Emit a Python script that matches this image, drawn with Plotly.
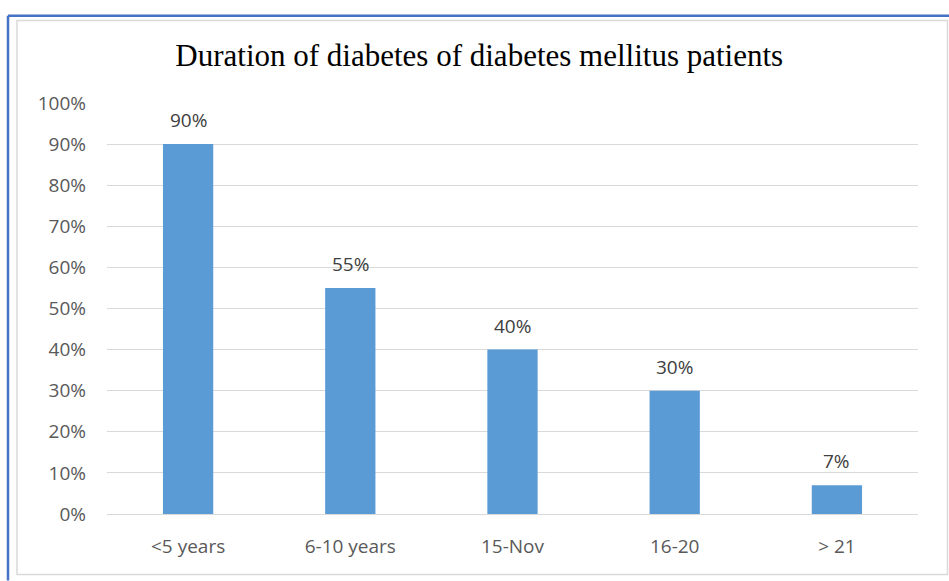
import plotly.graph_objects as go

categories = ["<5 years", "6-10 years", "15-Nov", "16-20", "> 21"]
values = [0.90, 0.55, 0.40, 0.30, 0.07]
labels = ["90%", "55%", "40%", "30%", "7%"]
tick_vals = [i / 10 for i in range(11)]
tick_text = [f"{i*10}%" for i in range(11)]

W, H = 949, 581
FONT = "Open Sans, Liberation Sans, sans-serif"
fig = go.Figure(go.Bar(
    x=categories, y=values,
    marker=dict(color="#5B9BD5", line=dict(width=0)),
    hoverinfo="skip",
))
for c, v, t in zip(categories, values, labels):
    fig.add_annotation(x=c, y=v, text=t, showarrow=False, yanchor="middle", yshift=24,
                       font=dict(family=FONT, size=19, color="#404040"))
fig.update_layout(
    width=W, height=H,
    margin=dict(l=107, r=31, t=103, b=67),
    paper_bgcolor="white", plot_bgcolor="white",
    bargap=0.69, showlegend=False,
    title=dict(text="Duration of diabetes of diabetes mellitus patients",
               x=0.505, xanchor="center", y=1 - 55 / H, yanchor="middle",
               font=dict(family="Liberation Serif, Times New Roman, serif", size=31, color="#000000")),
    xaxis=dict(showline=True, linecolor="#D9D9D9", linewidth=1, ticks="",
               ticklabelstandoff=15,
               tickfont=dict(family=FONT, size=19, color="#595959"),
               showgrid=False),
    yaxis=dict(range=[0, 1], tickvals=tick_vals, ticktext=tick_text,
               showgrid=True, gridcolor="#D9D9D9", gridwidth=1, zeroline=False,
               showline=False, ticks="", ticklabelstandoff=20,
               tickfont=dict(family=FONT, size=19, color="#595959")),
    shapes=[
        dict(type="line", xref="paper", yref="paper",
             x0=(8 - 107) / 811, x1=(949 - 107) / 811, y0=(581 - 12 - 67) / 414, y1=(581 - 12 - 67) / 414,
             line=dict(color="#4472C4", width=2.5)),
        dict(type="line", xref="paper", yref="paper",
             x0=(8 - 107) / 811, x1=(8 - 107) / 811, y0=(581 - 12 - 67) / 414, y1=(0 - 67) / 414,
             line=dict(color="#4472C4", width=2.5)),
        dict(type="rect", xref="paper", yref="paper",
             x0=(17 - 107) / 811, x1=(947.5 - 107) / 811, y0=(581 - 575 - 67) / 414, y1=(581 - 17 - 67) / 414,
             line=dict(color="#D9D9D9", width=1.5), fillcolor="rgba(0,0,0,0)", layer="below"),
    ],
)
fig.write_html("out.html")
